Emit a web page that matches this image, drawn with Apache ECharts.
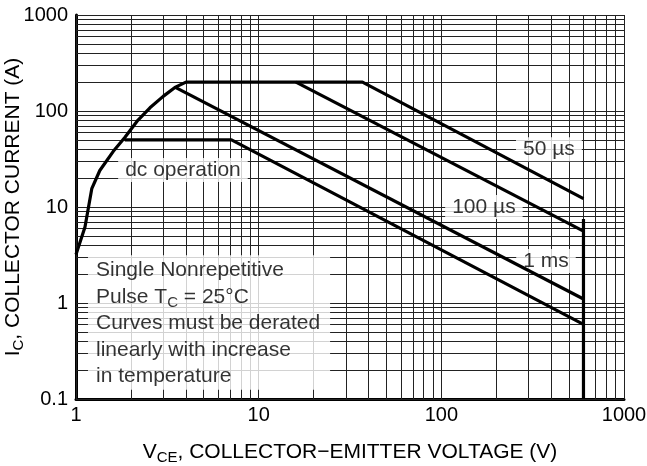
<!DOCTYPE html>
<html>
<head>
<meta charset="utf-8">
<script src="https://cdn.jsdelivr.net/npm/echarts@6/dist/echarts.min.js"></script>
<style>
  html, body { margin: 0; padding: 0; background: #fff; }
  #chart { width: 647px; height: 466px; }
</style>
</head>
<body>
<div id="chart"></div>
<script>
// safe operating area
var outerCurve = [[1, 3.2], [1.12, 6.2], [1.22, 15.5], [1.35, 24], [1.6, 38], [1.85, 53],
  [2.18, 80], [2.54, 108], [3, 142], [3.48, 176], [4, 200], [37, 200], [600, 12.2]]; // 50 us
var curve100us = [[16, 200], [600, 5.6]];
var curve1ms = [[3.5, 176], [600, 1.1]];
var curveDc = [[1.85, 50], [7.1, 50], [600, 0.6]];
var voltLimit = [[600, 7.5], [600, 0.1]];

var xTicks = [1, 10, 100, 1000];
var yTicks = [0.1, 1, 10, 100, 1000];
var gridSteps = [1, 2, 3, 4, 5, 6, 7, 8, 9];

// text boxes: [x, y, text]
var labelDc = [[3.85, 24.3, 'dc operation']];
var label50 = [[388, 40, '50 µs']];
var label100 = [[171, 10, '100 µs']];
var label1ms = [[374, 2.74, '1 ms']];
var noteBox = [[1.163, 0.626]];

function gridValues(ticks) {
  var out = [];
  for (var i = 0; i < ticks.length - 1; i++) {
    gridSteps.forEach(function (s) { out.push(+(ticks[i] * s).toPrecision(3)); });
  }
  out.push(ticks[ticks.length - 1]);
  return out;
}

var font = 'Liberation Sans, Arial, sans-serif';
var chart = echarts.init(document.getElementById('chart'));

var gridMarks = [];
gridValues(xTicks).forEach(function (v) { gridMarks.push({ xAxis: v }); });
gridValues(yTicks).forEach(function (v) { gridMarks.push({ yAxis: v }); });

function curve(data) {
  return {
    type: 'line', data: data, showSymbol: false, z: 5, silent: true,
    lineStyle: { color: '#000', width: 3.2 }
  };
}

function textBox(data, pos) {
  return {
    type: 'scatter', data: data, symbolSize: 0, z: 3, silent: true,
    label: {
      show: true, position: pos || 'inside', color: '#000',
      fontFamily: font, fontSize: 21, backgroundColor: '#fff', padding: [2, 7, 1, 7],
      formatter: function (p) { return p.data[2]; }
    }
  };
}

var noteSeries = textBox(noteBox, 'right');
noteSeries.label.distance = 0;
noteSeries.label.padding = [2, 10, 0, 8];
noteSeries.label.lineHeight = 26.5;
noteSeries.label.formatter = [
  '{m|Single Nonrepetitive}',
  '{m|Pulse T}{s|C}{m| = 25°C}',
  '{m|Curves must be derated}',
  '{m|linearly with increase}',
  '{m|in temperature}'
].join('\n');
noteSeries.label.rich = {
  m: { fontSize: 21, fontFamily: font, color: '#000', lineHeight: 26.5 },
  s: { fontSize: 15, fontFamily: font, color: '#000', lineHeight: 15, verticalAlign: 'bottom' }
};

function tickText(v) { return String(+v.toPrecision(3)); }

chart.setOption({
  animation: false,
  grid: { left: 76, right: 23, top: 15, bottom: 67, outerBoundsMode: 'none', containLabel: false },
  xAxis: {
    type: 'log', logBase: 10, min: 1, max: 1000,
    name: '{m|V}{s|CE}{m|, COLLECTOR−EMITTER VOLTAGE (V)}',
    nameLocation: 'middle', nameGap: 40, nameMoveOverlap: false,
    nameTextStyle: {
      rich: {
        m: { fontSize: 21, fontFamily: font, color: '#000', lineHeight: 26 },
        s: { fontSize: 15, fontFamily: font, color: '#000', lineHeight: 15, verticalAlign: 'bottom' }
      }
    },
    axisLine: { lineStyle: { color: '#000', width: 3 } },
    axisTick: { show: false },
    splitLine: { show: false },
    axisLabel: { color: '#000', fontSize: 20, fontFamily: font, margin: 6, formatter: tickText }
  },
  yAxis: {
    type: 'log', logBase: 10, min: 0.1, max: 1000,
    name: '{m|I}{s|C}{m|, COLLECTOR CURRENT (A)}',
    nameLocation: 'middle', nameGap: 50, nameRotate: 90, nameMoveOverlap: false,
    nameTextStyle: {
      rich: {
        m: { fontSize: 21, fontFamily: font, color: '#000', lineHeight: 26 },
        s: { fontSize: 15, fontFamily: font, color: '#000', lineHeight: 15, verticalAlign: 'bottom' }
      }
    },
    axisLine: { lineStyle: { color: '#000', width: 3 } },
    axisTick: { show: false },
    splitLine: { show: false },
    axisLabel: { color: '#000', fontSize: 20, fontFamily: font, margin: 8, formatter: tickText }
  },
  series: [
    {
      type: 'line', data: [], z: 1, silent: true,
      markLine: {
        z: 1, silent: true, symbol: 'none', animation: false,
        label: { show: false },
        lineStyle: { color: '#222', width: 1, type: 'solid' },
        data: gridMarks
      }
    },
    textBox(labelDc),
    textBox(label50),
    textBox(label100),
    textBox(label1ms),
    noteSeries,
    curve(outerCurve),
    curve(curve100us),
    curve(curve1ms),
    curve(curveDc),
    curve(voltLimit)
  ]
});
</script>
</body>
</html>
